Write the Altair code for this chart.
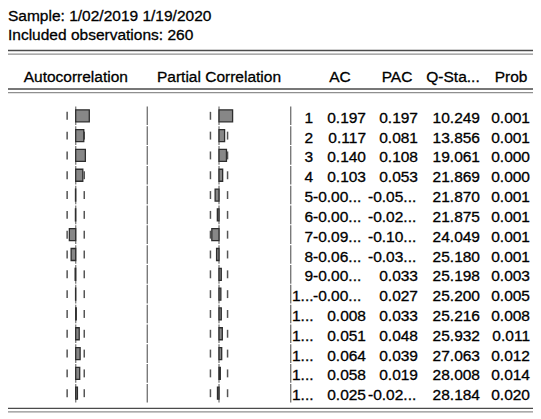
import math
import altair as alt
import pandas as pd

# ---------------- data ----------------
lags = list(range(1, 16))
ac = [0.197, 0.117, 0.140, 0.103, -0.003, -0.004, -0.092, -0.066, -0.008, -0.002,
      0.008, 0.051, 0.064, 0.058, 0.025]
pac = [0.197, 0.081, 0.108, 0.053, -0.056, -0.024, -0.104, -0.035, 0.033, 0.027,
       0.033, 0.048, 0.039, 0.019, -0.022]
qstat = [10.249, 13.856, 19.061, 21.869, 21.870, 21.875, 24.049, 25.180, 25.198, 25.200,
         25.216, 25.932, 27.063, 28.008, 28.184]
prob = [0.001, 0.001, 0.000, 0.000, 0.001, 0.001, 0.001, 0.001, 0.003, 0.005,
        0.008, 0.011, 0.012, 0.014, 0.020]
n_obs = 260
sample_line = "Sample: 1/02/2019 1/19/2020"
obs_line = "Included observations: 260"
headers = ["Autocorrelation", "Partial Correlation", "AC", "PAC", "Q-Sta...", "Prob"]

bound = 2 / math.sqrt(n_obs)

FONT = "Liberation Sans"
FS = 15.5
TXT = dict(font=FONT, fontSize=FS, color="#000000", stroke="#000000", strokeWidth=0.3)

rows = pd.DataFrame({"lag": lags, "ac": ac, "pac": pac, "q": qstat, "prob": prob})


def show(v, digits, width):
    s = f"{v:.{digits}f}" if digits is not None else str(v)
    return (s, False) if len(s) <= width else (s[:width] + "...", True)


col_spec = {"lag": (None, 1), "ac": (3, 5), "pac": (3, 5), "q": (3, 6), "prob": (3, 5)}
cells = []
for _, r in rows.iterrows():
    for c, (d, w) in col_spec.items():
        val = int(r[c]) if c == "lag" else r[c]
        t, tr = show(val, d, w)
        cells.append({"lag": r["lag"], "col": c, "text": t, "trunc": tr})
cells = pd.DataFrame(cells)

bounds = pd.DataFrame({"lag": lags * 2, "b": [-bound] * len(lags) + [bound] * len(lags)})

# ---------------- scales ----------------
ac_x = alt.Scale(domain=[-1, 1], range=[-1.3, 136.7], padding=0)
pac_x = alt.Scale(domain=[-1, 1], range=[142, 280], padding=0)
y_sc = alt.Scale(domain=[1, 15], range=[107.8, 385.2], padding=0)

base = alt.Chart(rows).transform_calculate(
    zero="0", lo="datum.lag - 0.47", hi="datum.lag + 0.47"
)

layers = []

# row segments: zero lines and separators
for xs in (ac_x, pac_x):
    layers.append(base.mark_rule(color="#858585", strokeWidth=1.4).encode(
        x=alt.X("zero:Q", scale=xs, axis=None),
        y=alt.Y("lo:Q", scale=y_sc, axis=None), y2="hi:Q"))
for xv in (139.3, 282.7):
    layers.append(base.mark_rule(color="#7a7a7a", strokeWidth=1.4).encode(
        x=alt.value(xv),
        y=alt.Y("lo:Q", scale=y_sc, axis=None), y2="hi:Q"))

# dashed confidence bounds
bbase = alt.Chart(bounds).transform_calculate(lo="datum.lag - 0.2", hi="datum.lag + 0.2")
for xs in (ac_x, pac_x):
    layers.append(bbase.mark_rule(color="#555555", strokeWidth=1.5).encode(
        x=alt.X("b:Q", scale=xs, axis=None),
        y=alt.Y("lo:Q", scale=y_sc, axis=None), y2="hi:Q"))

# bars
for fld, xs in (("ac", ac_x), ("pac", pac_x)):
    layers.append(base.mark_bar(size=12, orient="horizontal", color="#878787",
                                stroke="#2e2e2e", strokeWidth=1.3).encode(
        x=alt.X(f"{fld}:Q", scale=xs, axis=None), x2="zero:Q",
        y=alt.Y("lag:Q", scale=y_sc, axis=None)))

# table numbers
right_x = {"lag": 305, "ac": 358, "pac": 410, "q": 472, "prob": 522}
left_x = {"lag": 284, "ac": 305, "pac": 360, "q": 420, "prob": 474}
for c in col_spec:
    for tr, al, xv in ((False, "right", right_x[c]), (True, "left", left_x[c])):
        sub = cells[(cells.col == c) & (cells.trunc == tr)]
        if len(sub) == 0:
            continue
        layers.append(alt.Chart(sub).mark_text(
            align=al, baseline="alphabetic", dy=7, **TXT
        ).encode(x=alt.value(xv), y=alt.Y("lag:Q", scale=y_sc, axis=None), text="text:N"))

# header/top texts
def label(t, x, y, align="left"):
    return alt.Chart(pd.DataFrame({"t": [t]})).mark_text(
        align=align, baseline="alphabetic", **TXT
    ).encode(x=alt.value(x), y=alt.value(y), text="t:N")


layers.append(label(sample_line, 0, 12.5))
layers.append(label(obs_line, 0, 32))
for h, hx in zip(headers, [67.8, 211, 332, 389, 445, 503]):
    layers.append(label(h, hx, 73.5, "center"))

# double horizontal lines
def hline(y, color):
    return alt.Chart(pd.DataFrame({"a": [0]})).mark_rule(color=color, strokeWidth=1.3).encode(
        x=alt.value(-3), x2=alt.value(525), y=alt.value(y))


for y1 in (42.5, 81, 400.3):
    layers.append(hline(y1, "#4a4a4a"))
    layers.append(hline(y1 + 3.6, "#8f8f8f"))

chart = alt.layer(*layers).resolve_scale(x="independent").properties(
    width=525, height=405, padding=0,
    autosize=alt.AutoSizeParams(type="none"),
).configure_view(stroke=None)

chart.save("out.html", embed_options={"renderer": "svg", "actions": False})
